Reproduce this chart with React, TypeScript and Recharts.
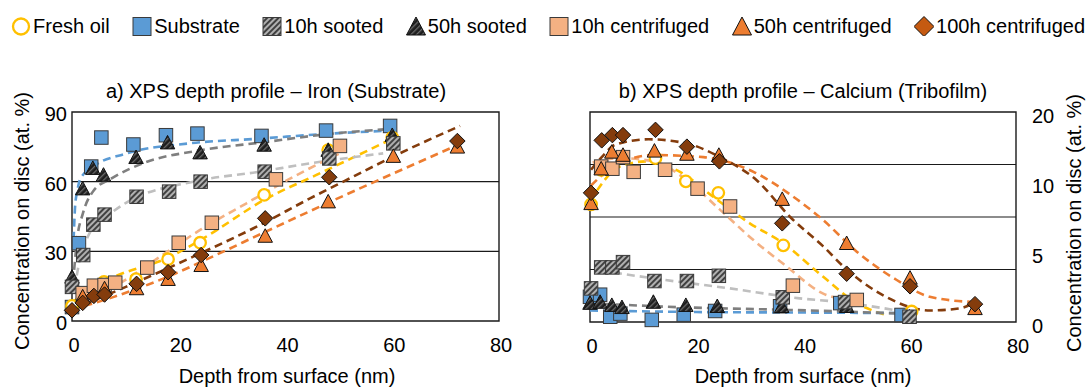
import React from "react";
import {
  ComposedChart,
  Line,
  Scatter,
  XAxis,
  YAxis,
  ReferenceLine,
  ReferenceArea,
} from "recharts";

type Pt = [number, number];

// depth (nm), concentration (at. %)
// a) iron
const feFreshOil: Pt[] = [[0, 6.5], [6, 16.8], [12, 18], [18, 26.6], [24, 33.7], [36, 54.3], [48, 73.6], [60, 79]];
const feSubstrate: Pt[] = [[0, 6], [1.3, 33.5], [3.6, 66.5], [5.5, 79], [11.5, 76], [17.6, 80], [23.5, 80.7], [35.5, 79.7], [47.6, 82], [59.6, 84]];
const feSooted10: Pt[] = [[0, 14.7], [2.1, 28.4], [4, 41.5], [6.1, 45.8], [12.1, 53.5], [18.2, 55.7], [24.1, 60], [36.1, 64.3], [48.2, 70], [60.2, 76.5]];
const feSooted50: Pt[] = [[0, 19], [2, 57], [3.9, 65.8], [5.9, 62.9], [12, 70.5], [17.9, 76.8], [24, 72.5], [36, 75.8], [48, 73.6], [60, 80]];
const feCentr10: Pt[] = [[2, 12], [4.1, 15.2], [6.1, 15.5], [8.1, 16.5], [14.1, 23], [20, 33.7], [26.2, 42.3], [38.2, 61], [50.2, 75.4]];
const feCentr50: Pt[] = [[2, 10.5], [6.1, 14], [12.1, 14], [18, 18], [24.2, 24], [36.2, 36.6], [48, 51.4], [60.2, 71], [72.2, 75]];
const feCentr100: Pt[] = [[0, 4.6], [2, 7.8], [4.1, 10.8], [6.1, 11.4], [12.1, 16], [18, 21], [24.2, 28.4], [36.2, 44.2], [48.2, 61.9], [72.2, 77.5]];

// trend lines
const feFreshOilFit: Pt[] = [[0, 8], [6.5, 17.5], [18.4, 27.7], [24.6, 35.6], [36.5, 52.8], [45.8, 62.9], [59.6, 78]];
const feSubstrateFit: Pt[] = [[0.3, 35], [0.6, 50], [1, 56], [1.5, 61], [4, 66.5], [10, 72], [22, 76.5], [35, 78.5], [47, 80.5], [59.6, 82]];
const feSooted10Fit: Pt[] = [[0.5, 14], [1.5, 27], [3, 36.5], [4, 40.6], [7, 46], [10.2, 51], [22.7, 60], [35.2, 64.3], [44.6, 67.9], [58.3, 72.2]];
const feSooted50Fit: Pt[] = [[0.4, 22], [1, 36], [2, 46], [4, 56], [7.5, 61.5], [13.4, 68], [24, 73.5], [36, 77], [48, 80.5], [58.5, 82.5]];
const feCentr10Fit: Pt[] = [[0, 7], [8, 15], [16.5, 27.7], [24, 39.2], [32.7, 50.7], [41.5, 62.1], [50, 72]];
const feCentr50Fit: Pt[] = [[0, 5], [8, 10.5], [16.5, 17.7], [29, 30.6], [34, 36], [50, 53], [71, 74.5]];
const feCentr100Fit: Pt[] = [[0, 5], [10.2, 14.8], [22.7, 27.7], [35.2, 41.3], [44.6, 52.8], [49.6, 58.6], [62.7, 73.6], [72.7, 84]];

// b) calcium
const caFreshOil: Pt[] = [[0.2, 11.2], [2.1, 14.5], [12.3, 15.6], [18, 13.4], [24.1, 12.3], [36.3, 7.3], [60.4, 1.0]];
const caSubstrate: Pt[] = [[0, 2.4], [1.9, 2.6], [3.8, 0.5], [5.7, 0.8], [11.6, 0.2], [17.6, 0.7], [23.5, 1.05], [35.7, 1.5], [47, 1.8], [58.5, 0.67]];
const caSooted10: Pt[] = [[0.2, 3.2], [2.1, 5.2], [4.2, 5.2], [6.2, 5.7], [12.1, 3.9], [18.2, 3.9], [24.2, 4.4], [36.2, 2.35], [47.9, 1.9], [60, 0.5]];
const caSooted50: Pt[] = [[0, 1.8], [1.9, 1.9], [4.1, 1.6], [6, 1.4], [11.9, 1.9], [18, 1.6], [23.9, 1.5], [36, 1.5], [48.2, 1.5], [60, 0.5]];
const caCentr10: Pt[] = [[2.1, 14.8], [4.2, 14.6], [6.2, 15.7], [8.2, 14.3], [14.1, 14.5], [20.2, 12.7], [26.3, 11.0], [38.1, 3.46], [50.1, 2.1]];
const caCentr50: Pt[] = [[0.2, 11.3], [2.1, 14.6], [4.1, 16.2], [6.2, 15.9], [12.1, 16.3], [18.2, 16], [24.2, 15.9], [36.1, 11.7], [48.2, 7.5], [60.1, 4.2], [72.3, 1.3]];
const caCentr100: Pt[] = [[0.2, 12.3], [2.2, 17.3], [4.2, 17.8], [6.2, 17.8], [12.3, 18.3], [18.2, 16.7], [24.3, 15.3], [36.1, 9.4], [48.2, 4.6], [60.1, 3.4], [72.3, 1.7]];

const caFreshOilFit: Pt[] = [[0, 11.5], [5.6, 14.8], [10.6, 15.3], [16.9, 14.3], [23.2, 11.9], [30, 9.4], [36.3, 7.5], [43.8, 4.3], [50.1, 1.8], [56, 0.6]];
const caSubstrateFit: Pt[] = [[0, 1.1], [20, 0.95], [40, 0.9], [58.8, 0.85]];
const caSooted10Fit: Pt[] = [[4.5, 4.7], [14.1, 4.0], [26.3, 3.2], [39.4, 2.25], [47, 1.9], [58.8, 1.0]];
const caSooted50Fit: Pt[] = [[0, 1.8], [7.9, 1.6], [17.3, 1.4], [24.8, 1.3], [37.6, 1.15], [58.8, 0.8]];
const caCentr10Fit: Pt[] = [[0.5, 15.2], [5.6, 15.6], [11.9, 15.3], [18.2, 13.5], [24.4, 10.7], [30.7, 7.8], [36.9, 5.3], [43.8, 2.7], [48.2, 2.1]];
const caCentr50Fit: Pt[] = [[0.2, 13], [4.4, 14.8], [11.9, 15.9], [21.3, 15.7], [30.7, 14.3], [38, 12], [43.8, 9.7], [50.1, 6.7], [57.6, 4], [63.8, 2.4], [72, 1.9]];
const caCentr100Fit: Pt[] = [[0.2, 14.5], [2.2, 15.7], [4.8, 16.9], [11, 17.4], [18.2, 17], [24.4, 15.7], [31.3, 13.5], [37.6, 10], [43.8, 7.2], [48.2, 5], [54.5, 2.7], [63.9, 1.1], [69.5, 1.3], [72, 1.8]];

const seriesNames = ["Fresh oil", "Substrate", "10h sooted", "50h sooted", "10h centrifuged", "50h centrifuged", "100h centrifuged"];

const xTicks = [0, 20, 40, 60, 80];
const feTicks = [0, 30, 60, 90];
const feGrid = [30, 60];
const caTickLabels = ["0", "5", "10", "20"];
const caGrid = [5, 10, 15];

const FONT = "Arial, 'Liberation Sans', Helvetica, sans-serif";

type Kind = "circle" | "square" | "triangle" | "diamond";

const styles: { kind: Kind; fill: string; legendFill: string; line: string }[] = [
  { kind: "circle", fill: "#fff", legendFill: "#fff", line: "#FFC000" },
  { kind: "square", fill: "#5B9BD5", legendFill: "#5B9BD5", line: "#5B9BD5" },
  { kind: "square", fill: "url(#hatchLight)", legendFill: "url(#hatchLight)", line: "#BFBFBF" },
  { kind: "triangle", fill: "url(#hatchDark)", legendFill: "url(#hatchDark)", line: "#7F7F7F" },
  { kind: "square", fill: "#F4B183", legendFill: "#F4B183", line: "#F4B183" },
  { kind: "triangle", fill: "#ED7D31", legendFill: "#ED7D31", line: "#ED7D31" },
  { kind: "diamond", fill: "#843C0C", legendFill: "#C55A11", line: "#843C0C" },
];

// draw order of markers (substrate at the back, 100h on top)
const drawOrder = [1, 0, 3, 2, 4, 5, 6];

function marker(kind: Kind, fill: string, cx: number, cy: number, s: number) {
  const h = s / 2;
  if (kind === "circle")
    return <circle cx={cx} cy={cy} r={h - 1} fill={fill} stroke="#FFC000" strokeWidth={2.3} />;
  if (kind === "square")
    return <rect x={cx - h} y={cy - h} width={s} height={s} fill={fill} stroke="#3a3a3a" strokeWidth={1} />;
  if (kind === "triangle")
    return (
      <polygon
        points={`${cx},${cy - h - 0.5} ${cx + h + 0.5},${cy + h - 0.5} ${cx - h - 0.5},${cy + h - 0.5}`}
        fill={fill}
        stroke="#111"
        strokeWidth={1}
      />
    );
  return (
    <polygon
      points={`${cx},${cy - h - 1} ${cx + h + 1},${cy} ${cx},${cy + h + 1} ${cx - h - 1},${cy}`}
      fill={fill}
      stroke="#111"
      strokeWidth={1}
    />
  );
}

const toXY = (pts: Pt[]) => pts.map(([x, y]) => ({ x, y }));

interface PanelProps {
  left: number;
  width: number;
  margin: { top: number; right: number; bottom: number; left: number };
  points: Pt[][];
  fits: Pt[][];
  yMax: number;
  yTicks: number[];
  yLabels: string[];
  grid: number[];
  side: "left" | "right";
}

function Panel({ left, width, margin, points, fits, yMax, yTicks, yLabels, grid, side }: PanelProps) {
  const yTick = (p: any) => (
    <text
      x={p.x}
      y={p.y + (side === "left" ? 2 : 4)}
      textAnchor={side === "left" ? "end" : "start"}
      dominantBaseline="central"
      fontSize={20}
      fontFamily={FONT}
      fill="#000"
    >
      {yLabels[p.index]}
    </text>
  );
  const xTick = (p: any) => (
    <text x={p.x + 2} y={p.y} textAnchor="middle" dominantBaseline="central" fontSize={20} fontFamily={FONT} fill="#000">
      {p.payload.value}
    </text>
  );
  return (
    <div style={{ position: "absolute", left, top: 0 }}>
      <ComposedChart width={width} height={387} margin={margin}>
        <XAxis
          type="number"
          dataKey="x"
          domain={[0, 80]}
          ticks={xTicks}
          axisLine={false}
          tickLine={false}
          tickSize={0}
          tickMargin={24}
          height={40}
          tick={xTick}
        />
        <YAxis
          type="number"
          dataKey="y"
          orientation={side}
          domain={[0, yMax]}
          ticks={yTicks}
          axisLine={false}
          tickLine={false}
          tickSize={0}
          tickMargin={side === "left" ? 5 : 16}
          width={side === "left" ? 60 : 50}
          tick={yTick}
        />
        {grid.map((v) => (
          <ReferenceLine key={v} y={v} stroke="#1a1a1a" strokeWidth={1.2} />
        ))}
        <ReferenceArea x1={0} x2={80} y1={0} y2={yMax} fill="none" fillOpacity={0} stroke="#1a1a1a" strokeWidth={1.4} />
        {fits.map((f, i) => (
          <Line
            key={"fit" + i}
            data={toXY(f)}
            dataKey="y"
            type="monotone"
            stroke={styles[i].line}
            strokeWidth={2.6}
            strokeDasharray="8 5"
            dot={false}
            activeDot={false}
            isAnimationActive={false}
          />
        ))}
        {drawOrder.map((i) => (
          <Scatter
            key={"pts" + i}
            data={toXY(points[i])}
            dataKey="y"
            isAnimationActive={false}
            shape={(p: any) => marker(styles[i].kind, styles[i].fill, p.cx, p.cy, 13.5)}
          />
        ))}
      </ComposedChart>
    </div>
  );
}

const textStyle: React.CSSProperties = {
  position: "absolute",
  fontFamily: FONT,
  fontSize: 20,
  lineHeight: "20px",
  color: "#000",
  whiteSpace: "nowrap",
};

export default function App() {
  const caTicks = caTickLabels.map((_, i) => (i * 20) / (caTickLabels.length - 1));
  return (
    <div style={{ position: "absolute", left: 0, top: 0, width: 1089, height: 387, background: "#fff", overflow: "hidden" }}>
      <svg width={0} height={0} style={{ position: "absolute" }}>
        <defs>
          <pattern id="hatchLight" patternUnits="userSpaceOnUse" width={4} height={4} patternTransform="rotate(45)">
            <rect width={4} height={4} fill="#b0b0b0" />
            <rect width={2} height={4} fill="#404040" />
          </pattern>
          <pattern id="hatchDark" patternUnits="userSpaceOnUse" width={4} height={4} patternTransform="rotate(45)">
            <rect width={4} height={4} fill="#1e1e1e" />
            <rect width={1.3} height={4} fill="#6a6a6a" />
          </pattern>
        </defs>
      </svg>

      {/* legend */}
      <div style={{ position: "absolute", left: 11, top: 16, width: 1100, display: "flex", alignItems: "center", whiteSpace: "nowrap" }}>
        {seriesNames.map((name, i) => (
          <div key={name} style={{ display: "flex", alignItems: "center", flexShrink: 0, marginRight: 22.5 }}>
            <svg width={20} height={20} style={{ display: "block", flexShrink: 0 }}>
              {marker(styles[i].kind, styles[i].legendFill, 10, 10.5, 18)}
            </svg>
            <span style={{ fontFamily: FONT, fontSize: 20, lineHeight: "20px", marginLeft: 2 }}>{name}</span>
          </div>
        ))}
      </div>

      <Panel
        left={0}
        width={520}
        margin={{ top: 112, right: 21, bottom: 26, left: 12 }}
        points={[feFreshOil, feSubstrate, feSooted10, feSooted50, feCentr10, feCentr50, feCentr100]}
        fits={[feFreshOilFit, feSubstrateFit, feSooted10Fit, feSooted50Fit, feCentr10Fit, feCentr50Fit, feCentr100Fit]}
        yMax={90}
        yTicks={feTicks}
        yLabels={feTicks.map(String)}
        grid={feGrid}
        side="left"
      />
      <Panel
        left={560}
        width={529}
        margin={{ top: 112, right: 23, bottom: 25, left: 30 }}
        points={[caFreshOil, caSubstrate, caSooted10, caSooted50, caCentr10, caCentr50, caCentr100]}
        fits={[caFreshOilFit, caSubstrateFit, caSooted10Fit, caSooted50Fit, caCentr10Fit, caCentr50Fit, caCentr100Fit]}
        yMax={20}
        yTicks={caTicks}
        yLabels={caTickLabels}
        grid={caGrid}
        side="right"
      />

      <div style={{ ...textStyle, left: 276, top: 81, transform: "translateX(-50%)" }}>
        a) XPS depth profile – Iron (Substrate)
      </div>
      <div style={{ ...textStyle, left: 803, top: 81, transform: "translateX(-50%)" }}>
        b) XPS depth profile – Calcium (Tribofilm)
      </div>
      <div style={{ ...textStyle, left: 287, top: 366, transform: "translateX(-50%)" }}>Depth from surface (nm)</div>
      <div style={{ ...textStyle, left: 803, top: 366, transform: "translateX(-50%)" }}>Depth from surface (nm)</div>
      <div style={{ ...textStyle, left: 22, top: 221, transform: "translate(-50%, -50%) rotate(-90deg)" }}>
        Concentration on disc (at. %)
      </div>
      <div style={{ ...textStyle, left: 1074, top: 223, transform: "translate(-50%, -50%) rotate(-90deg)" }}>
        Concentration on disc (at. %)
      </div>
    </div>
  );
}
